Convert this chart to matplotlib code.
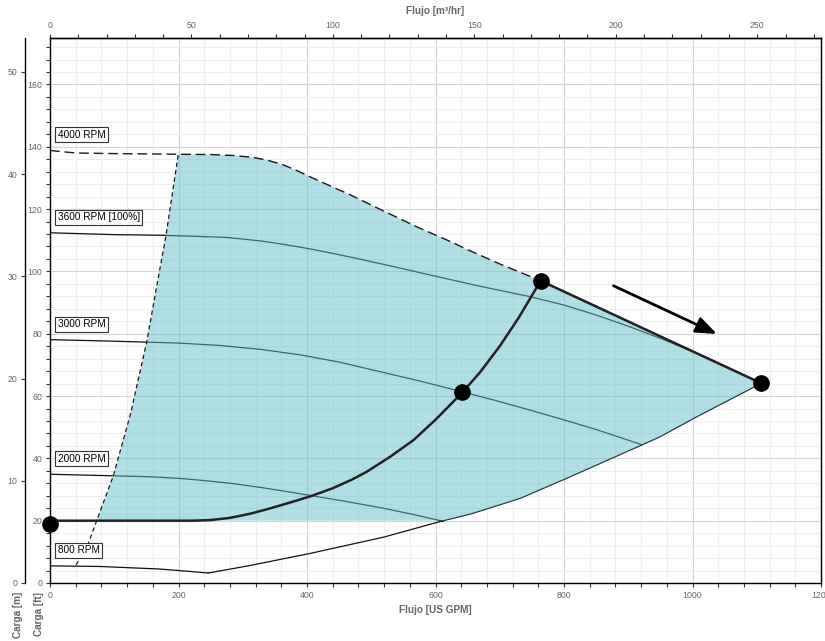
import numpy as np
import matplotlib
matplotlib.use("Agg")
import matplotlib.pyplot as plt
from matplotlib.ticker import MultipleLocator, FixedLocator

plt.rcParams['font.family'] = ['Liberation Sans', 'DejaVu Sans']

# ---------------- data (flow in US GPM, head in ft) ----------------
rpm_labels = ['4000 RPM', '3600 RPM [100%]', '3000 RPM', '2000 RPM', '800 RPM']

q_4000 = [0, 40, 100, 200, 250, 285, 316, 340, 363, 385, 400, 430, 467, 519, 571, 623, 654, 700, 763.7, 1107]
h_4000 = [138.8, 138.0, 137.8, 137.6, 137.5, 137.2, 136.6, 135.6, 134.2, 132.3, 130.8, 128.0, 124.6, 119.4, 114.3, 109.6, 106.6, 102.4, 97.0, 64.1]

q_3600 = [0, 100, 171, 220, 275, 327, 360, 400, 440, 483, 540, 599, 670, 747, 800, 850, 903, 955, 1007, 1057, 1107]
h_3600 = [112.4, 111.8, 111.6, 111.3, 110.9, 109.8, 108.8, 107.4, 105.8, 103.9, 101.3, 98.5, 95.2, 91.9, 89.2, 86.0, 82.2, 78.1, 73.7, 69.0, 64.1]

q_3000 = [0, 100, 150, 200, 260, 327, 390, 450, 510, 576, 643, 700, 747, 804, 851, 921]
h_3000 = [78.1, 77.6, 77.3, 77.0, 76.3, 75.0, 73.2, 70.9, 68.0, 64.8, 61.3, 58.2, 55.5, 52.1, 49.2, 44.4]

q_2000 = [0, 98, 156, 200, 239, 285, 330, 373, 405, 460, 519, 565, 612]
h_2000 = [34.9, 34.4, 34.1, 33.6, 32.9, 31.9, 30.6, 29.2, 28.1, 26.2, 24.0, 22.0, 19.8]

q_800 = [0, 78, 135, 170, 200, 224, 246]
h_800 = [5.5, 5.3, 4.8, 4.5, 4.0, 3.6, 3.2]

# minimum-flow boundary (dashed, left)
q_min = [40.5, 57, 72.7, 98.5, 125, 150.5, 165, 180.5, 199.7]
h_min = [5.8, 11.2, 20.0, 34.4, 54.0, 77.3, 94.0, 111.5, 137.6]

# lower envelope (end of curves)
q_low = [246, 311, 405, 519, 612, 654, 732, 804, 921, 949, 1007, 1107]
h_low = [3.2, 5.6, 9.5, 14.7, 20.0, 22.1, 27.2, 33.6, 44.3, 46.9, 53.4, 64.1]

# system curve
q_sys = [0, 223, 250, 280, 311, 340, 370, 405, 440, 470, 493, 530, 566, 600, 642, 670, 700, 730, 763.7]
h_sys = [20.0, 20.0, 20.2, 20.9, 22.2, 23.8, 25.6, 27.8, 30.4, 33.2, 35.7, 40.6, 45.9, 52.4, 61.2, 67.8, 76.0, 85.3, 97.0]

# limit line between operating points
q_lim = [763.7, 1107]
h_lim = [97.0, 64.1]

# operating points
q_pts = [0, 642, 763.7, 1107]
h_pts = [19.0, 61.2, 97.0, 64.1]

# arrow
arrow_start = (877, 95.4)
arrow_end = (1038, 79.9)

top_ticks = [0, 50, 100, 150, 200, 250]
min_head = 20.0
GPM_TO_M3H = 0.22712
FT_TO_M = 0.3048

# ---------------- figure ----------------
W, H = 825, 641
fig = plt.figure(figsize=(W / 100, H / 100), dpi=100)
ax = fig.add_axes([50 / W, 58 / H, 771 / W, 545.3 / H])

ax.set_xlim(0, 1200)
ax.set_ylim(0, 175)

tick_col = '#666666'
lab_col = '#666666'

ax.set_xticks([0, 200, 400, 600, 800, 1000, 1200])
ax.xaxis.set_minor_locator(MultipleLocator(40))
ax.set_yticks([0, 20, 40, 60, 80, 100, 120, 140, 160])
ax.yaxis.set_minor_locator(MultipleLocator(4))
ax.grid(which='major', color='#d6d6d6', lw=0.8)
ax.grid(which='minor', color='#eeeeee', lw=0.8)
ax.set_axisbelow(True)
ax.tick_params(which='both', direction='out', length=3, width=0.8, colors='#333333',
               labelsize=6.3, labelcolor=tick_col, pad=2.5)
for s in ax.spines.values():
    s.set_linewidth(1.0)
    s.set_color('black')

# speed curves
lc = '#111111'
ax.plot(q_3600, h_3600, color=lc, lw=0.9, zorder=2)
ax.plot(q_3000, h_3000, color=lc, lw=0.9, zorder=2)
ax.plot(q_2000, h_2000, color=lc, lw=0.9, zorder=2)
ax.plot(q_800, h_800, color=lc, lw=0.9, zorder=2)
ax.plot(q_low, h_low, color=lc, lw=0.9, zorder=2)

# shaded operating region
qm, hm = np.array(q_min), np.array(h_min)
q4, h4 = np.array(q_4000), np.array(h_4000)
ql, hl = np.array(q_low), np.array(h_low)
sel_m = hm >= min_head
sel_4 = (q4 > qm.max()) & (q4 <= q_lim[0])
sel_l = hl >= min_head
poly_q = np.concatenate([qm[sel_m], q4[sel_4], [q_lim[1]], ql[sel_l][::-1]])
poly_h = np.concatenate([hm[sel_m], h4[sel_4], [h_lim[1]], hl[sel_l][::-1]])
ax.fill(poly_q, poly_h, color='#61c1cd', alpha=0.5, lw=0, zorder=3)

# dashed boundaries
ax.plot(q_4000, h_4000, color='#1a1a1a', lw=1.0, ls=(0, (7, 3.5)), zorder=4)
ax.plot(q_min, h_min, color='#1a1a1a', lw=0.9, ls=(0, (3.5, 2.5)), zorder=4)

# system curve and limit line
ax.plot(q_sys, h_sys, color='#222222', lw=1.8, zorder=4, solid_capstyle='butt')
ax.plot(q_lim, h_lim, color='#222222', lw=1.8, zorder=4)

# operating points
ax.plot(q_pts, h_pts, 'o', color='black', ms=11, zorder=6, clip_on=False)

# arrow
ax.annotate('', xy=arrow_end, xytext=arrow_start,
            arrowprops=dict(arrowstyle='-|>,head_length=0.9,head_width=0.35',
                            lw=2, color='black', mutation_scale=14,
                            shrinkA=0, shrinkB=0), zorder=7)

# speed labels
starts = [h_4000[0], h_3600[0], h_3000[0], h_2000[0], h_800[0]]
for lab, h0 in zip(rpm_labels, starts):
    ax.text(12, h0 + 5, lab, fontsize=7.2, color='black', va='center', ha='left',
            zorder=8,
            bbox=dict(boxstyle='square,pad=0.25', fc='white', ec='#333333', lw=0.8))

# bottom label
ax.set_xlabel('Flujo [US GPM]', fontsize=7.2, fontweight='bold', color=lab_col, labelpad=4)

# top axis (m3/hr)
sec = ax.secondary_xaxis('top', functions=(lambda q: q * GPM_TO_M3H,
                                           lambda m: m / GPM_TO_M3H))
sec.xaxis.set_major_locator(FixedLocator(top_ticks))
sec.xaxis.set_minor_locator(FixedLocator(list(range(0, 271, 10))))
sec.tick_params(which='both', direction='out', length=3, width=0.8, colors='#333333',
                labelsize=6.3, labelcolor=tick_col, pad=2.5)
sec.spines['top'].set_linewidth(1.0)
sec.set_xlabel('Flujo [m³/hr]', fontsize=7.2, fontweight='bold', color=lab_col, labelpad=5)

# left meters axis
ax2 = ax.twinx()
ax2.set_ylim(0, 175 * FT_TO_M)
ax2.yaxis.tick_left()
ax2.spines['left'].set_position(('outward', 18))
ax2.spines['left'].set_visible(True)
ax2.spines['left'].set_linewidth(1.0)
for k in ['right', 'top', 'bottom']:
    ax2.spines[k].set_visible(False)
ax2.set_yticks([0, 10, 20, 30, 40, 50])
ax2.tick_params(axis='y', which='both', direction='out', length=3, width=0.8,
                colors='#333333', labelsize=6.3, labelcolor=tick_col, pad=2.5)

# y-axis titles, below the axes
fig.text(18 / W, 1 - 592 / H, 'Carga [m]', rotation=90, ha='center', va='top',
         fontsize=7.2, fontweight='bold', color=lab_col)
fig.text(39 / W, 1 - 592 / H, 'Carga [ft]', rotation=90, ha='center', va='top',
         fontsize=7.2, fontweight='bold', color=lab_col)

fig.savefig('out.png', dpi=100)
